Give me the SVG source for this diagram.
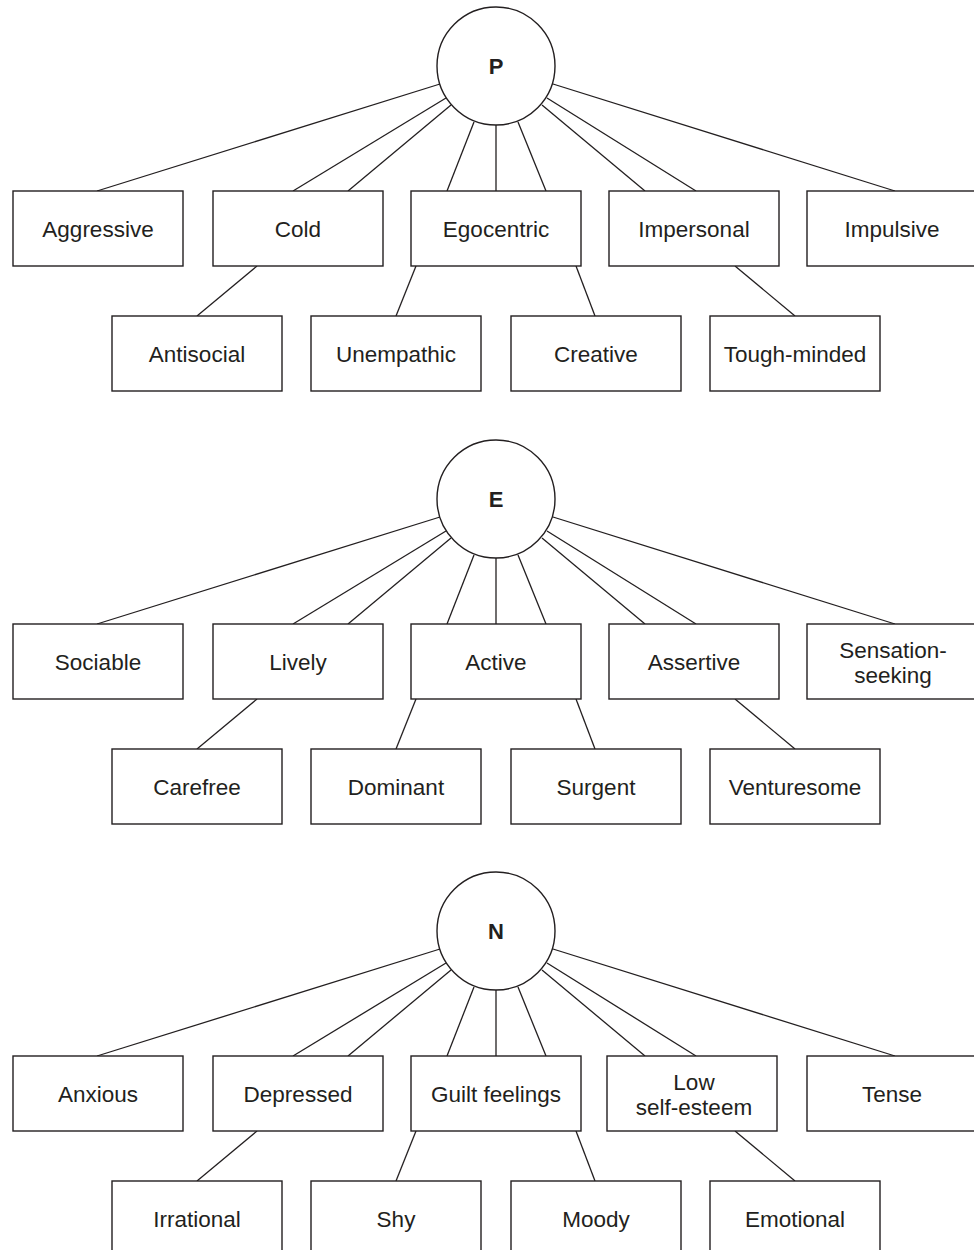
<svg xmlns="http://www.w3.org/2000/svg" width="974" height="1250" viewBox="0 0 974 1250">
<style>
  .bg { fill: #ffffff; }
  .box { fill: #ffffff; stroke: #231f20; stroke-width: 1.4; }
  .circ { fill: #ffffff; stroke: #231f20; stroke-width: 1.4; }
  .lbl { font-family: "Liberation Sans", Arial, sans-serif; font-size: 22.5px; fill: #231f20; text-anchor: middle; }
  .fac { font-family: "Liberation Sans", Arial, sans-serif; font-size: 22px; font-weight: bold; fill: #231f20; text-anchor: middle; }
  .conn line { stroke: #231f20; stroke-width: 1.3; }
</style>
<rect class="bg" x="0" y="0" width="974" height="1250"/>

<g id="connectors" class="conn">
  <!-- P -->
  <line x1="440" y1="84" x2="97" y2="191"/>
  <line x1="446" y1="98" x2="293" y2="191"/>
  <line x1="451" y1="105" x2="348" y2="191"/>
  <line x1="474" y1="122" x2="447" y2="191"/>
  <line x1="496" y1="125" x2="496" y2="191"/>
  <line x1="518" y1="122" x2="546" y2="191"/>
  <line x1="542" y1="105" x2="645" y2="191"/>
  <line x1="547" y1="98" x2="696" y2="191"/>
  <line x1="553" y1="84" x2="895" y2="191"/>
  <line x1="257" y1="266" x2="197" y2="316"/>
  <line x1="416" y1="266" x2="396" y2="316"/>
  <line x1="576" y1="266" x2="595" y2="316"/>
  <line x1="735" y1="266" x2="795" y2="316"/>
  <!-- E -->
  <line x1="440" y1="517" x2="97" y2="624"/>
  <line x1="446" y1="531" x2="293" y2="624"/>
  <line x1="451" y1="538" x2="348" y2="624"/>
  <line x1="474" y1="555" x2="447" y2="624"/>
  <line x1="496" y1="558" x2="496" y2="624"/>
  <line x1="518" y1="555" x2="546" y2="624"/>
  <line x1="542" y1="538" x2="645" y2="624"/>
  <line x1="547" y1="531" x2="696" y2="624"/>
  <line x1="553" y1="517" x2="895" y2="624"/>
  <line x1="257" y1="699" x2="197" y2="749"/>
  <line x1="416" y1="699" x2="396" y2="749"/>
  <line x1="576" y1="699" x2="595" y2="749"/>
  <line x1="735" y1="699" x2="795" y2="749"/>
  <!-- N -->
  <line x1="440" y1="949" x2="97" y2="1056"/>
  <line x1="446" y1="963" x2="293" y2="1056"/>
  <line x1="451" y1="970" x2="348" y2="1056"/>
  <line x1="474" y1="987" x2="447" y2="1056"/>
  <line x1="496" y1="990" x2="496" y2="1056"/>
  <line x1="518" y1="987" x2="546" y2="1056"/>
  <line x1="542" y1="970" x2="645" y2="1056"/>
  <line x1="547" y1="963" x2="696" y2="1056"/>
  <line x1="553" y1="949" x2="895" y2="1056"/>
  <line x1="257" y1="1131" x2="197" y2="1181"/>
  <line x1="416" y1="1131" x2="396" y2="1181"/>
  <line x1="576" y1="1131" x2="595" y2="1181"/>
  <line x1="735" y1="1131" x2="795" y2="1181"/>
</g>

<!-- P section -->
<g id="node-P"><circle class="circ" cx="496" cy="66" r="59"/><text class="fac" x="496" y="74">P</text></g>
<g id="node-aggressive"><rect class="box" x="13" y="191" width="170" height="75"/><text class="lbl" x="98" y="236.5">Aggressive</text></g>
<g id="node-cold"><rect class="box" x="213" y="191" width="170" height="75"/><text class="lbl" x="298" y="236.5">Cold</text></g>
<g id="node-egocentric"><rect class="box" x="411" y="191" width="170" height="75"/><text class="lbl" x="496" y="236.5">Egocentric</text></g>
<g id="node-impersonal"><rect class="box" x="609" y="191" width="170" height="75"/><text class="lbl" x="694" y="236.5">Impersonal</text></g>
<g id="node-impulsive"><rect class="box" x="807" y="191" width="170" height="75"/><text class="lbl" x="892" y="236.5">Impulsive</text></g>
<g id="node-antisocial"><rect class="box" x="112" y="316" width="170" height="75"/><text class="lbl" x="197" y="361.5">Antisocial</text></g>
<g id="node-unempathic"><rect class="box" x="311" y="316" width="170" height="75"/><text class="lbl" x="396" y="361.5">Unempathic</text></g>
<g id="node-creative"><rect class="box" x="511" y="316" width="170" height="75"/><text class="lbl" x="596" y="361.5">Creative</text></g>
<g id="node-toughminded"><rect class="box" x="710" y="316" width="170" height="75"/><text class="lbl" x="795" y="361.5">Tough-minded</text></g>

<!-- E section -->
<g id="node-E"><circle class="circ" cx="496" cy="499" r="59"/><text class="fac" x="496" y="507">E</text></g>
<g id="node-sociable"><rect class="box" x="13" y="624" width="170" height="75"/><text class="lbl" x="98" y="669.5">Sociable</text></g>
<g id="node-lively"><rect class="box" x="213" y="624" width="170" height="75"/><text class="lbl" x="298" y="669.5">Lively</text></g>
<g id="node-active"><rect class="box" x="411" y="624" width="170" height="75"/><text class="lbl" x="496" y="669.5">Active</text></g>
<g id="node-assertive"><rect class="box" x="609" y="624" width="170" height="75"/><text class="lbl" x="694" y="669.5">Assertive</text></g>
<g id="node-sensation"><rect class="box" x="807" y="624" width="170" height="75"/><text class="lbl" x="893" y="658">Sensation-</text><text class="lbl" x="893" y="683">seeking</text></g>
<g id="node-carefree"><rect class="box" x="112" y="749" width="170" height="75"/><text class="lbl" x="197" y="794.5">Carefree</text></g>
<g id="node-dominant"><rect class="box" x="311" y="749" width="170" height="75"/><text class="lbl" x="396" y="794.5">Dominant</text></g>
<g id="node-surgent"><rect class="box" x="511" y="749" width="170" height="75"/><text class="lbl" x="596" y="794.5">Surgent</text></g>
<g id="node-venturesome"><rect class="box" x="710" y="749" width="170" height="75"/><text class="lbl" x="795" y="794.5">Venturesome</text></g>

<!-- N section -->
<g id="node-N"><circle class="circ" cx="496" cy="931" r="59"/><text class="fac" x="496" y="939">N</text></g>
<g id="node-anxious"><rect class="box" x="13" y="1056" width="170" height="75"/><text class="lbl" x="98" y="1101.5">Anxious</text></g>
<g id="node-depressed"><rect class="box" x="213" y="1056" width="170" height="75"/><text class="lbl" x="298" y="1101.5">Depressed</text></g>
<g id="node-guilt"><rect class="box" x="411" y="1056" width="170" height="75"/><text class="lbl" x="496" y="1101.5">Guilt feelings</text></g>
<g id="node-lowselfesteem"><rect class="box" x="607" y="1056" width="170" height="75"/><text class="lbl" x="694" y="1090">Low</text><text class="lbl" x="694" y="1115">self-esteem</text></g>
<g id="node-tense"><rect class="box" x="807" y="1056" width="170" height="75"/><text class="lbl" x="892" y="1101.5">Tense</text></g>
<g id="node-irrational"><rect class="box" x="112" y="1181" width="170" height="75"/><text class="lbl" x="197" y="1226.5">Irrational</text></g>
<g id="node-shy"><rect class="box" x="311" y="1181" width="170" height="75"/><text class="lbl" x="396" y="1226.5">Shy</text></g>
<g id="node-moody"><rect class="box" x="511" y="1181" width="170" height="75"/><text class="lbl" x="596" y="1226.5">Moody</text></g>
<g id="node-emotional"><rect class="box" x="710" y="1181" width="170" height="75"/><text class="lbl" x="795" y="1226.5">Emotional</text></g>
</svg>
